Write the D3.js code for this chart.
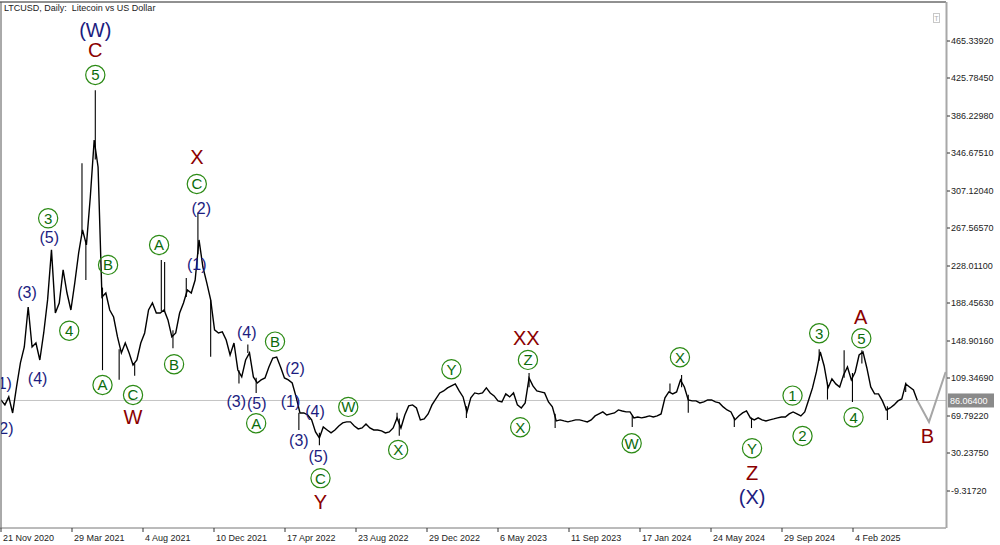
<!DOCTYPE html>
<html>
<head>
<meta charset="utf-8">
<script src="https://cdn.jsdelivr.net/npm/d3@7"></script>
<style>
  body { margin: 0; background: #fff; }
  svg { display: block; font-family: "Liberation Sans", Arial, sans-serif; }
</style>
</head>
<body>
<svg id="chart" width="1000" height="545"></svg>
<script>
// weekly closes, one every 7 days from closeStart
var closeStart = "2020-11-21";
var closeStepDays = 7;
var weeklyClose = [
  86.6, 81.4, 89.8, 72.9, 100.3, 125.6, 142.4, 184.6, 142.4, 146.6,
  128.7, 157.2, 192.0, 244.7, 178.2, 188.8, 223.6, 199.3, 181.4, 209.9,
  241.5, 265.7, 250.0, 300.5, 360.5, 332.1, 195.1, 199.3, 181.4, 174.0,
  153.0, 136.1, 146.6, 136.1, 123.5, 128.7, 146.6, 157.2, 181.4, 188.8,
  178.2, 178.2, 181.4, 170.9, 153.0, 157.2, 178.2, 188.8, 202.5, 199.3,
  213.0, 255.2, 226.7, 209.9, 192.0, 160.4, 157.2, 158.3, 149.8, 134.0,
  146.6, 118.2, 110.9, 128.7, 136.1, 110.9, 104.5, 107.7, 109.8, 121.4,
  130.8, 131.9, 121.4, 109.8, 107.7, 104.5, 89.8, 72.9, 72.9, 70.8,
  65.6, 52.9, 46.6, 58.2, 55.0, 51.9, 55.0, 59.2, 62.4, 63.5,
  63.5, 59.2, 56.1, 57.1, 61.3, 57.1, 55.0, 55.0, 54.0, 51.9,
  52.9, 57.1, 67.7, 57.1, 70.8, 80.3, 81.4, 78.2, 65.6, 66.6,
  71.9, 81.4, 87.7, 94.0, 96.1, 99.3, 101.4, 103.5, 96.1, 89.8,
  74.0, 88.8, 94.0, 93.0, 94.0, 99.3, 94.0, 90.9, 85.6, 84.5,
  93.0, 89.8, 94.0, 81.4, 78.2, 83.5, 109.8, 101.4, 96.1, 95.1,
  94.0, 84.5, 79.3, 64.5, 65.6, 64.5, 63.5, 64.5, 65.6, 65.6,
  64.5, 63.5, 65.6, 69.8, 71.9, 74.0, 70.8, 71.9, 72.9, 76.1,
  75.0, 74.0, 74.0, 67.7, 68.7, 67.7, 68.7, 69.8, 68.7, 69.8,
  71.9, 88.8, 95.1, 93.0, 95.1, 107.7, 100.3, 86.6, 85.6, 85.6,
  83.5, 84.5, 86.6, 86.6, 84.5, 83.5, 79.3, 76.1, 74.0, 65.6,
  69.8, 72.9, 75.0, 67.7, 65.6, 67.7, 65.6, 64.5, 65.6, 66.6,
  67.7, 68.7, 68.7, 71.9, 74.0, 71.9, 69.8, 74.0, 86.6, 99.3,
  116.1, 137.2, 122.4, 99.3, 108.8, 103.5, 100.3, 113.0, 121.4, 107.7,
  116.1, 134.0, 137.2, 120.3, 100.3, 93.0, 93.0, 85.6, 76.1, 78.2,
  81.4, 85.6, 87.7, 103.5, 100.3, 97.2, 86.064
];

// single-day spikes: [date, low, high]
var wicks = [
  ["2021-04-16", 262, 336], ["2021-04-23", 213, 255], ["2021-05-10", 340, 413],
  ["2021-05-23", 118, 205], ["2021-06-22", 108, 140], ["2021-07-20", 112, 125],
  ["2021-09-06", 180, 234], ["2021-09-12", 180, 232], ["2021-09-27", 141, 160],
  ["2021-10-21", 195, 215], ["2021-11-11", 240, 284], ["2021-12-04", 132, 192],
  ["2022-01-24", 104, 118], ["2022-02-09", 136, 145], ["2022-02-24", 94, 110],
  ["2022-05-12", 55, 73], ["2022-06-18", 39, 52], ["2022-11-05", 66, 73],
  ["2022-11-09", 49, 67], ["2023-03-10", 67.7, 80], ["2023-07-01", 100, 115],
  ["2023-08-17", 57, 72], ["2024-01-03", 58, 70], ["2024-03-11", 95, 104],
  ["2024-04-01", 100, 113], ["2024-04-13", 73, 92], ["2024-07-05", 58, 68],
  ["2024-08-05", 57, 68], ["2024-12-05", 128, 140], ["2024-12-20", 87, 105],
  ["2025-01-19", 110, 139], ["2025-02-03", 84.5, 115], ["2025-02-20", 125, 139],
  ["2025-04-07", 65.6, 80], ["2025-05-10", 95, 105]
];

// projected path (grey zigzag)
var forecast = [["2025-05-31", 86.064], ["2025-06-21", 63.5], ["2025-07-21", 116.1]];

var lastPrice = 86.064;
var priceTicks = [465.3392, 425.7845, 386.2298, 346.6751, 307.1204, 267.5657, 228.0110,
                  188.4563, 148.9016, 109.3469, 69.7922, 30.2375, -9.3172];
var dateTicks = ["2020-11-21", "2021-03-29", "2021-08-04", "2021-12-10", "2022-04-17",
                 "2022-08-23", "2022-12-29", "2023-05-06", "2023-09-11", "2024-01-17",
                 "2024-05-24", "2024-09-29", "2025-02-04"];

// wave marks: [text, date, price, kind]
var waveLabels = [
  ["(W)", "2021-05-10", 477.1, "major"], ["C", "2021-05-10", 455.3, "red"],
  ["5", "2021-05-10", 429.0, "circle"], ["X", "2021-11-09", 342.3, "red"],
  ["C", "2021-11-09", 314.2, "circle"], ["(2)", "2021-11-17", 288.6, "minor"],
  ["3", "2021-02-14", 278.0, "circle"], ["(5)", "2021-02-16", 258.0, "minor"],
  ["A", "2021-09-02", 249.9, "circle"], ["(1)", "2021-11-09", 229.6, "minor"],
  ["B", "2021-06-02", 228.9, "circle"], ["(3)", "2021-01-07", 199.7, "minor"],
  ["4", "2021-03-24", 159.6, "circle"], ["(4)", "2021-01-26", 109.5, "minor"],
  ["(1)", "2020-11-23", 104.6, "minor"], ["(2)", "2020-11-26", 57.2, "minor"],
  ["A", "2021-05-23", 102.4, "circle"], ["C", "2021-07-17", 91.9, "circle"],
  ["W", "2021-07-17", 69.1, "red"], ["B", "2021-09-29", 124.3, "circle"],
  ["(4)", "2022-02-07", 157.5, "minor"], ["B", "2022-03-30", 148.1, "circle"],
  ["(2)", "2022-05-05", 120.0, "minor"], ["(3)", "2022-01-19", 84.9, "minor"],
  ["(5)", "2022-02-25", 83.2, "minor"], ["A", "2022-02-24", 62.1, "circle"],
  ["(1)", "2022-04-27", 85.6, "minor"], ["(4)", "2022-06-10", 74.3, "minor"],
  ["W", "2022-08-09", 79.3, "circle"], ["(3)", "2022-05-12", 44.5, "minor"],
  ["(5)", "2022-06-16", 27.7, "minor"], ["C", "2022-06-20", 4.2, "circle"],
  ["Y", "2022-06-20", -21.1, "red"], ["X", "2022-11-07", 34.0, "circle"],
  ["Y", "2023-02-11", 119.0, "circle"], ["XX", "2023-06-26", 151.6, "red"],
  ["Z", "2023-06-29", 128.8, "circle"], ["X", "2023-06-15", 57.9, "circle"],
  ["W", "2024-01-02", 41.0, "circle"], ["X", "2024-03-29", 131.6, "circle"],
  ["Y", "2024-08-06", 35.8, "circle"], ["Z", "2024-08-06", 9.4, "red"],
  ["(X)", "2024-08-06", -15.9, "major"], ["1", "2024-10-18", 91.2, "circle"],
  ["2", "2024-11-05", 48.7, "circle"], ["3", "2024-12-05", 156.9, "circle"],
  ["A", "2025-02-18", 174.4, "red"], ["5", "2025-02-19", 151.6, "circle"],
  ["4", "2025-02-05", 68.4, "circle"], ["B", "2025-06-18", 48.7, "red"]
];

var parse = d3.utcParse("%Y-%m-%d");
var fmtTick = d3.utcFormat("%-d %b %Y");

var plotL = 1, plotR = 946, plotT = 2, plotB = 528;

var x = d3.scaleUtc()
  .domain([parse("2020-11-21"), parse("2025-02-04")])
  .range([1, 853]);
var y = d3.scaleLinear()
  .domain([-9.3172, 465.3392])
  .range([491, 40.5]);

var svg = d3.select("#chart");

svg.append("defs").append("clipPath").attr("id", "plot")
  .append("rect")
  .attr("x", plotL).attr("y", plotT)
  .attr("width", plotR - plotL).attr("height", plotB - plotT);

var start = parse(closeStart);
var series = weeklyClose.map(function(v, i) {
  return { date: d3.utcDay.offset(start, i * closeStepDays), value: v };
});

var plot = svg.append("g").attr("clip-path", "url(#plot)");

// current price line
plot.append("line")
  .attr("x1", plotL).attr("x2", plotR)
  .attr("y1", y(lastPrice)).attr("y2", y(lastPrice))
  .attr("stroke", "#c4c4c4").attr("stroke-width", 1);

var line = d3.line()
  .x(function(d) { return x(d.date); })
  .y(function(d) { return y(d.value); });

plot.append("path")
  .datum(series)
  .attr("fill", "none")
  .attr("stroke", "#000")
  .attr("stroke-width", 1.4)
  .attr("stroke-linejoin", "miter")
  .attr("d", line);

plot.selectAll("line.wick")
  .data(wicks)
  .enter().append("line")
  .attr("class", "wick")
  .attr("x1", function(d) { return x(parse(d[0])); })
  .attr("x2", function(d) { return x(parse(d[0])); })
  .attr("y1", function(d) { return y(d[1]); })
  .attr("y2", function(d) { return y(d[2]); })
  .attr("stroke", "#000")
  .attr("stroke-width", 1.1);

plot.append("path")
  .datum(forecast)
  .attr("fill", "none")
  .attr("stroke", "#a6a6a6")
  .attr("stroke-width", 2)
  .attr("d", d3.line()
    .x(function(d) { return x(parse(d[0])); })
    .y(function(d) { return y(d[1]); }));

// wave labels
var styles = {
  minor:  { size: 16, color: "#1c1c80" },
  major:  { size: 20, color: "#1c1c80" },
  red:    { size: 20, color: "#8b0000" },
  circle: { size: 15, color: "#0b6b0b" }
};

var marks = plot.selectAll("g.wave")
  .data(waveLabels)
  .enter().append("g")
  .attr("class", "wave")
  .attr("transform", function(d) {
    return "translate(" + x(parse(d[1])) + "," + y(d[2]) + ")";
  });

marks.filter(function(d) { return d[3] === "circle"; })
  .append("circle")
  .attr("r", 9.6)
  .attr("fill", "none")
  .attr("stroke", "#2b8a14")
  .attr("stroke-width", 1.2);

marks.append("text")
  .attr("text-anchor", "middle")
  .attr("dy", "0.36em")
  .attr("font-size", function(d) { return styles[d[3]].size; })
  .attr("fill", function(d) { return styles[d[3]].color; })
  .text(function(d) { return d[0]; });

// frame
svg.append("line").attr("x1", 0).attr("x2", plotR).attr("y1", plotT).attr("y2", plotT)
  .attr("stroke", "#222").attr("stroke-width", 1);
svg.append("line").attr("x1", plotL).attr("x2", plotL).attr("y1", plotT).attr("y2", plotB)
  .attr("stroke", "#555").attr("stroke-width", 1);
svg.append("line").attr("x1", 0).attr("x2", plotR).attr("y1", plotB).attr("y2", plotB)
  .attr("stroke", "#777").attr("stroke-width", 1);
svg.append("line").attr("x1", plotR + 0.5).attr("x2", plotR + 0.5).attr("y1", plotT).attr("y2", plotB)
  .attr("stroke", "#a8a8a8").attr("stroke-width", 2);

// right price axis
var yTicks = svg.append("g").selectAll("g")
  .data(priceTicks)
  .enter().append("g")
  .attr("transform", function(d) { return "translate(" + (plotR + 1) + "," + Math.round(y(d)) + ")"; });
yTicks.append("line").attr("x1", 0).attr("x2", 3).attr("stroke", "#333");
yTicks.append("text")
  .attr("x", 4).attr("dy", "0.35em")
  .attr("font-size", 9).attr("fill", "#222")
  .text(function(d) { return d.toFixed(5); });

// last price box
svg.append("rect")
  .attr("x", plotR + 2).attr("y", y(lastPrice) - 7)
  .attr("width", 46).attr("height", 14)
  .attr("fill", "#8a8a8a");
svg.append("text")
  .attr("x", plotR + 4).attr("y", y(lastPrice)).attr("dy", "0.35em")
  .attr("font-size", 9).attr("fill", "#fff")
  .text(lastPrice.toFixed(5));

// bottom date axis
var xTicks = svg.append("g").selectAll("g")
  .data(dateTicks)
  .enter().append("g")
  .attr("transform", function(d) { return "translate(" + Math.round(x(parse(d))) + "," + plotB + ")"; });
xTicks.append("line").attr("y1", 0).attr("y2", 4).attr("stroke", "#333");
xTicks.append("text")
  .attr("x", 2).attr("y", 13)
  .attr("font-size", 9).attr("fill", "#222")
  .text(function(d) { return fmtTick(parse(d)); });

// title and small trade-box glyph
svg.append("text")
  .attr("x", 4).attr("y", 11)
  .attr("font-size", 9).attr("fill", "#222")
  .style("white-space", "pre")
  .text("LTCUSD, Daily:  Litecoin vs US Dollar");

svg.append("rect")
  .attr("x", 933.5).attr("y", 13.5).attr("width", 6).attr("height", 9)
  .attr("fill", "none").attr("stroke", "#c8c8c8");
svg.append("text")
  .attr("x", 936.5).attr("y", 21).attr("text-anchor", "middle")
  .attr("font-size", 7).attr("fill", "#b0b0b0")
  .text("T");
</script>
</body>
</html>
